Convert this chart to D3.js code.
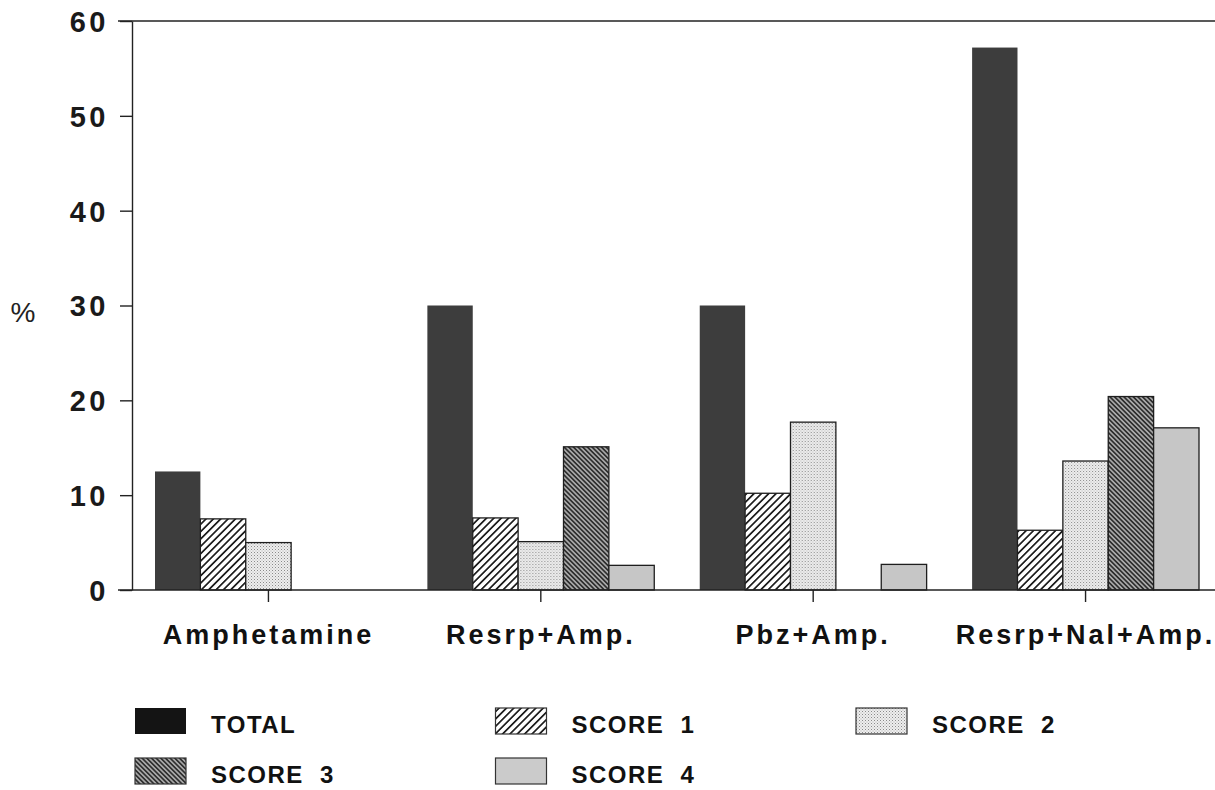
<!DOCTYPE html>
<html>
<head>
<meta charset="utf-8">
<script src="https://cdn.jsdelivr.net/npm/d3@7"></script>
<style>
  html, body { margin: 0; padding: 0; background: #fff; }
  svg { display: block; font-family: "Liberation Sans", Arial, sans-serif; }
</style>
</head>
<body>
<svg id="chart" width="1215" height="790"></svg>
<script>
// data (% of animals)
let categories = ["Amphetamine", "Resrp+Amp.", "Pbz+Amp.", "Resrp+Nal+Amp."];
let seriesNames = ["TOTAL", "SCORE 1", "SCORE 2", "SCORE 3", "SCORE 4"];
let total  = [12.5, 30.0, 30.0, 57.2];
let score1 = [7.5, 7.6, 10.2, 6.3];
let score2 = [5.0, 5.1, 17.7, 13.6];
let score3 = [0, 15.1, 0, 20.4];
let score4 = [0, 2.6, 2.7, 17.1];
let yTicks = [0, 10, 20, 30, 40, 50, 60];

let seriesValues = [total, score1, score2, score3, score4];

let svg = d3.select("#chart");
let defs = svg.append("defs");

// hatching / stipple fills
function hatch(id, size, angle, bg, lineColor, lineW) {
	let p = defs.append("pattern")
		.attr("id", id)
		.attr("patternUnits", "userSpaceOnUse")
		.attr("width", size).attr("height", size)
		.attr("patternTransform", "rotate(" + angle + ")");
	p.append("rect").attr("width", size).attr("height", size).attr("fill", bg);
	p.append("line")
		.attr("x1", size / 2).attr("x2", size / 2)
		.attr("y1", 0).attr("y2", size)
		.attr("stroke", lineColor).attr("stroke-width", lineW);
}
hatch("score1", 5.2, 45, "#fff", "#1a1a1a", 1.7);
hatch("score3", 3.3, -45, "#a8a8a8", "#222", 1.5);

let dots = defs.append("pattern")
	.attr("id", "score2")
	.attr("patternUnits", "userSpaceOnUse")
	.attr("width", 3).attr("height", 3);
dots.append("rect").attr("width", 3).attr("height", 3).attr("fill", "#eeeeee");
dots.append("rect").attr("width", 1).attr("height", 1).attr("fill", "#8a8a8a");
dots.append("rect").attr("x", 1.5).attr("y", 1.5).attr("width", 1).attr("height", 1).attr("fill", "#b0b0b0");

let barFill = ["#3d3d3d", "url(#score1)", "url(#score2)", "url(#score3)", "#c6c6c6"];
let legendFill = ["#141414", "url(#score1)", "url(#score2)", "url(#score3)", "#cbcbcb"];

let y = d3.scaleLinear().domain([0, 60]).range([590, 21]);

let x = d3.scaleBand()
	.domain(categories)
	.range([155, 1199])
	.paddingInner(0.167)
	.paddingOuter(0);

let xSeries = d3.scaleBand()
	.domain(seriesNames)
	.range([0, x.bandwidth()])
	.padding(0);

// frame lines: top rule and baseline run right to the edge
svg.append("line")
	.attr("x1", 118).attr("x2", 1215)
	.attr("y1", y(60)).attr("y2", y(60))
	.attr("stroke", "#222").attr("stroke-width", 1.6);

// bars
let groups = svg.append("g").selectAll("g")
	.data(categories)
	.enter()
	.append("g")
	.attr("transform", function(d) { return "translate(" + x(d) + ",0)"; });

groups.selectAll("rect")
	.data(function(d, i) {
		return seriesNames.map(function(s, j) { return { key: s, idx: j, value: seriesValues[j][i] }; });
	})
	.enter()
	.filter(function(d) { return d.value > 0; })
	.append("rect")
	.attr("x", function(d) { return xSeries(d.key); })
	.attr("y", function(d) { return y(d.value); })
	.attr("width", xSeries.bandwidth())
	.attr("height", function(d) { return y(0) - y(d.value); })
	.attr("fill", function(d) { return barFill[d.idx]; })
	.attr("stroke", function(d) { return d.idx === 0 ? "none" : "#1e1e1e"; })
	.attr("stroke-width", 1.3);

// y axis
let yAxis = svg.append("g")
	.attr("transform", "translate(132,0)")
	.call(d3.axisLeft(y).tickValues(yTicks).tickSize(12).tickSizeOuter(0).tickPadding(11));
yAxis.select(".domain").attr("stroke", "#222").attr("stroke-width", 1.4);
yAxis.selectAll(".tick line").attr("stroke", "#222").attr("stroke-width", 1.4);
yAxis.selectAll(".tick text")
	.attr("fill", "#1a1a1a")
	.style("font-size", "29px")
	.style("font-weight", "bold")
	.style("letter-spacing", "3.5px")
	.attr("dy", "0.36em");

// x axis
let xAxis = svg.append("g")
	.attr("transform", "translate(0," + y(0) + ")")
	.call(d3.axisBottom(x).tickSize(12).tickSizeOuter(0).tickPadding(23));
xAxis.select(".domain").remove();
xAxis.selectAll(".tick line").attr("stroke", "#222").attr("stroke-width", 1.4);
xAxis.selectAll(".tick text")
	.attr("fill", "#111")
	.style("font-size", "27px")
	.style("font-weight", "bold")
	.style("letter-spacing", "3px");

svg.append("line")
	.attr("x1", 118).attr("x2", 1215)
	.attr("y1", y(0)).attr("y2", y(0))
	.attr("stroke", "#222").attr("stroke-width", 1.6);

// y label
svg.append("text")
	.attr("x", 23).attr("y", 322)
	.attr("text-anchor", "middle")
	.style("font-size", "28px")
	.attr("fill", "#222")
	.text("%");

// legend, 3 columns x 2 rows
let legend = svg.append("g").selectAll("g")
	.data(seriesNames)
	.enter()
	.append("g")
	.attr("transform", function(d, i) {
		return "translate(" + (135 + (i % 3) * 360.5) + "," + (708 + Math.floor(i / 3) * 50) + ")";
	});

legend.append("rect")
	.attr("width", 51).attr("height", 26)
	.attr("fill", function(d, i) { return legendFill[i]; })
	.attr("stroke", function(d, i) { return i === 0 ? "none" : "#333"; })
	.attr("stroke-width", 1.2);

legend.append("text")
	.attr("x", 76).attr("y", 25)
	.style("font-size", "24px")
	.style("font-weight", "bold")
	.style("letter-spacing", "1.5px")
	.style("word-spacing", "8px")
	.attr("fill", "#111")
	.text(function(d) { return d; });
</script>
</body>
</html>
